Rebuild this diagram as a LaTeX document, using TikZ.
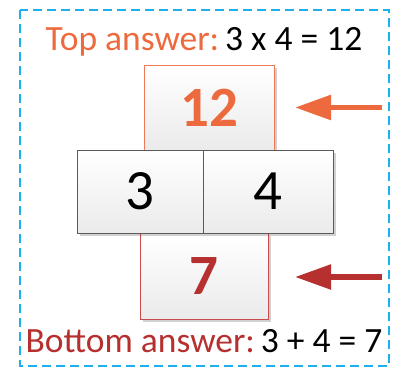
\documentclass[tikz,border=0pt]{standalone}
\usepackage{fontspec}
\setmainfont{Carlito}
\usetikzlibrary{arrows.meta,shadows}
\definecolor{dashblue}{HTML}{1CB0EC}
\definecolor{toporange}{HTML}{EC6A3E}
\definecolor{topborder}{HTML}{EE7A55}
\definecolor{botred}{HTML}{B5302F}
\definecolor{botborder}{HTML}{C94B4B}
\definecolor{midborder}{HTML}{5A5A5A}
\tikzset{
  cell/.style={draw, line width=1pt, inner sep=0pt, outer sep=0pt,
    top color=white, bottom color=black!8,
    drop shadow={shadow xshift=3pt, shadow yshift=-3pt, opacity=0.18, fill=black}},
  bigarrow/.style={line width=5.5pt, -{Triangle[length=36pt,width=24pt]}},
}
\begin{document}
\begin{tikzpicture}[x=1pt,y=-1pt]
\useasboundingbox (0,0) rectangle (402,370);
\draw[dashblue, line width=1.6pt, dash pattern=on 9pt off 5pt] (20,10) rectangle (389,366);
\node[anchor=base, font=\fontsize{35.5}{38}\selectfont] (toptext) at (204,50)
  {\textcolor{toporange}{Top answer:}\,3 x 4 = 12};
\node[cell, draw=topborder, minimum width=130pt, minimum height=85pt,
  font=\fontsize{57}{60}\selectfont\bfseries, text=toporange] (t) at (209,107.5) {12};
\node[cell, draw=botborder, minimum width=128pt, minimum height=86pt,
  font=\fontsize{57}{60}\selectfont\bfseries, text=botred] (b) at (204,276) {7};
\node[cell, draw=midborder, minimum width=126pt, minimum height=83pt,
  font=\fontsize{57}{60}\selectfont] (m1) at (140,191.5) {3};
\node[cell, draw=midborder, minimum width=130pt, minimum height=83pt,
  font=\fontsize{57}{60}\selectfont] (m2) at (268,191.5) {4};
\node[anchor=base, font=\fontsize{35.5}{38}\selectfont] (bottext) at (204,352)
  {\textcolor{botred}{Bottom answer:}\,3 + 4 = 7};
\coordinate (ta) at (382,107.5);
\coordinate (ba) at (382,277);
\draw[bigarrow, toporange] (ta) -- ([xshift=21pt]t.east);
\draw[bigarrow, botred] (ba) -- ([xshift=27pt, yshift=-1pt]b.east);
\end{tikzpicture}
\end{document}
